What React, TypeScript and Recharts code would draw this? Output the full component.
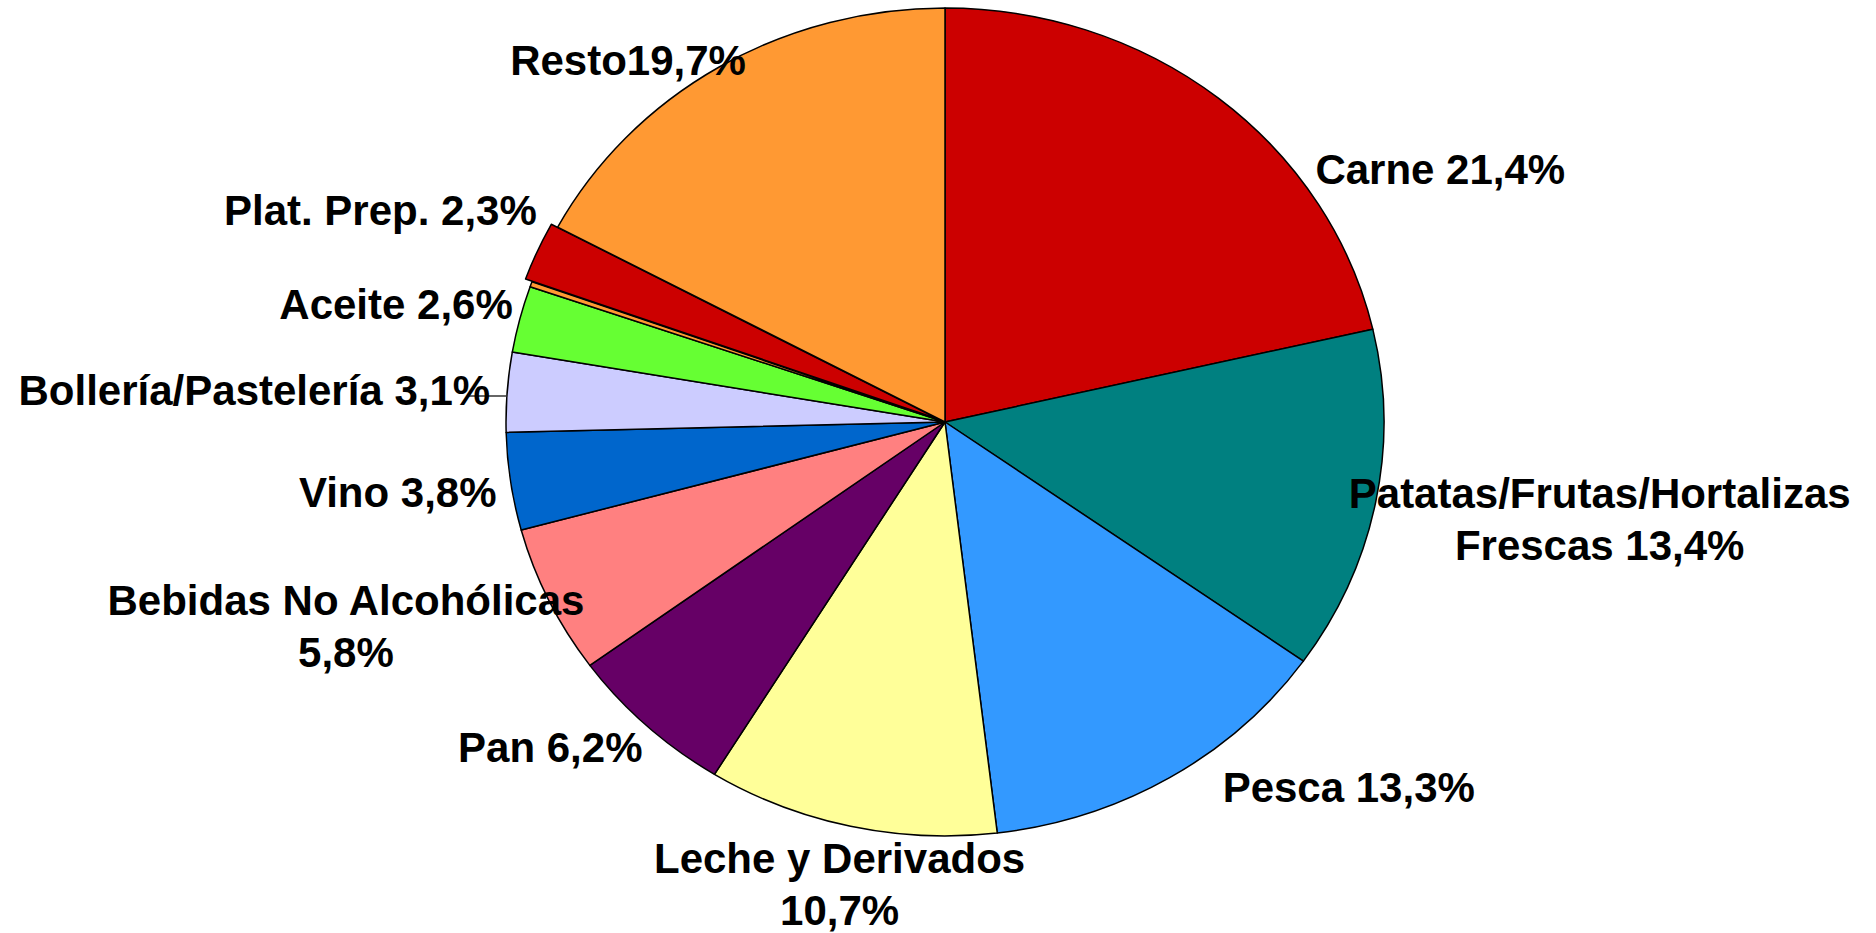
import React from "react";
import { PieChart, Pie, Cell } from "recharts";

// slice sizes as drawn (the printed percentages add up to more than 100)
const CATEGORIES = [
  "Carne",
  "Patatas/Frutas/Hortalizas Frescas",
  "Pesca",
  "Leche y Derivados",
  "Pan",
  "Bebidas No Alcohólicas",
  "Vino",
  "Bollería/Pastelería",
  "Aceite",
  "Otros",
  "Plat. Prep.",
  "Resto",
];
const VALUES = [21.4, 13.4, 13.3, 10.7, 6.2, 5.8, 3.8, 3.1, 2.6, 0.2, 2.3, 17.2];
const LABEL_TEXT = [
  "Carne 21,4%",
  "Patatas/Frutas/Hortalizas\nFrescas 13,4%",
  "Pesca 13,3%",
  "Leche y Derivados\n10,7%",
  "Pan 6,2%",
  "Bebidas No Alcohólicas\n5,8%",
  "Vino 3,8%",
  "Bollería/Pastelería 3,1%",
  "Aceite 2,6%",
  "",
  "Plat. Prep. 2,3%",
  "Resto19,7%",
];
const COLORS = [
  "#CC0000",
  "#008080",
  "#3399FF",
  "#FFFF99",
  "#660066",
  "#FF8080",
  "#0066CC",
  "#CCCCFF",
  "#66FF33",
  "#FF9933",
  "#CC0000",
  "#FF9933",
];

const data = CATEGORIES.map((name, i) => ({ name, value: VALUES[i] }));

const RAD = Math.PI / 180;
const X_STRETCH = 439 / 414; // the pie is a slightly wide ellipse
const EXPLODED: Record<string, number> = { "Plat. Prep.": 7 };

// label placement relative to the slice's outer edge at its mid angle
const LABEL_NUDGE: { dx: number; dy: number; anchor: "start" | "middle" | "end" }[] = [
  { dx: 97, dy: 86, anchor: "start" },
  { dx: 224, dy: 6, anchor: "middle" },
  { dx: 53, dy: 24, anchor: "start" },
  { dx: -11, dy: 47, anchor: "middle" },
  { dx: -4, dy: 36, anchor: "end" },
  { dx: -203, dy: 14, anchor: "middle" },
  { dx: -14, dy: 25, anchor: "end" },
  { dx: -17, dy: 13, anchor: "end" },
  { dx: -7, dy: 0, anchor: "end" },
  { dx: 0, dy: 0, anchor: "end" },
  { dx: -7, dy: -29, anchor: "end" },
  { dx: -209, dy: 8, anchor: "start" },
];

const FONT = "'Liberation Sans', Arial, Helvetica, sans-serif";

function EllipseSector(props: any) {
  const { cx, cy, outerRadius, startAngle, endAngle, fill } = props;
  const name = props.name ?? props.payload?.name;
  const ry = outerRadius;
  const rx = outerRadius * X_STRETCH;
  const mid = (startAngle + endAngle) / 2;
  const off = EXPLODED[name] ?? 0;
  const ox = cx + off * Math.cos(mid * RAD);
  const oy = cy - off * Math.sin(mid * RAD);
  const px = (a: number) => ox + rx * Math.cos(a * RAD);
  const py = (a: number) => oy - ry * Math.sin(a * RAD);
  const large = Math.abs(endAngle - startAngle) > 180 ? 1 : 0;
  const d = `M${ox},${oy} L${px(startAngle)},${py(startAngle)} A${rx},${ry} 0 ${large} 1 ${px(
    endAngle
  )},${py(endAngle)} Z`;
  return <path d={d} fill={fill} stroke="#000" strokeWidth={1.5} strokeLinejoin="round" />;
}

function renderLabel(props: any) {
  const { cx, cy, outerRadius, midAngle, index } = props;
  const text = LABEL_TEXT[index];
  if (!text) return null;
  const ex = cx + outerRadius * X_STRETCH * Math.cos(midAngle * RAD);
  const ey = cy - outerRadius * Math.sin(midAngle * RAD);
  const n = LABEL_NUDGE[index];
  const x = ex + n.dx;
  const y = ey + n.dy;
  const lines = text.split("\n");
  return (
    <g key={`lbl-${index}`}>
      {index === 7 && (
        <line x1={ex} y1={ey + 4} x2={x - 22} y2={y - 9} stroke="#333" strokeWidth={1.5} />
      )}
      <text
        x={x}
        y={y}
        textAnchor={n.anchor}
        fontFamily={FONT}
        fontWeight="bold"
        fontSize={42}
        fill="#000"
      >
        {lines.map((l, i) => (
          <tspan key={i} x={x} dy={i === 0 ? 0 : 52}>
            {l}
          </tspan>
        ))}
      </text>
    </g>
  );
}

export default function App() {
  return (
    <div style={{ position: "absolute", left: 0, top: 0, background: "#fff" }}>
      <PieChart width={1876} height={933} margin={{ top: 0, right: 0, bottom: 0, left: 0 }}>
        <Pie
          data={data}
          dataKey="value"
          nameKey="name"
          cx={945}
          cy={422}
          outerRadius={414}
          startAngle={90}
          endAngle={-270}
          stroke="#000"
          shape={EllipseSector}
          label={renderLabel}
          labelLine={false}
          isAnimationActive={false}
        >
          {data.map((d, i) => (
            <Cell key={d.name} fill={COLORS[i]} />
          ))}
        </Pie>
      </PieChart>
    </div>
  );
}
